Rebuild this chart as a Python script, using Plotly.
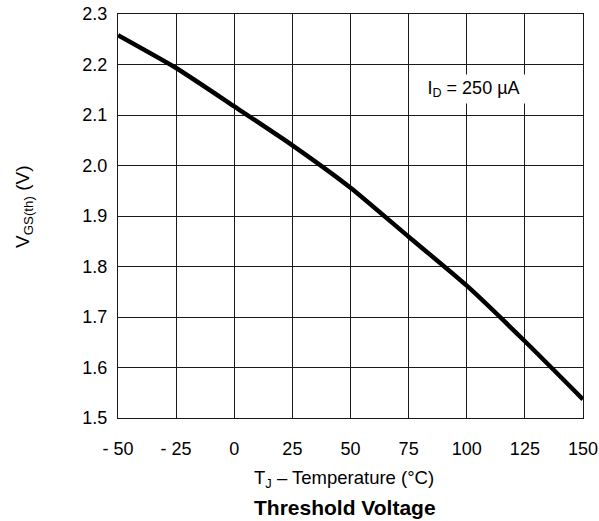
import plotly.graph_objects as go

temps = [-50, -25, 0, 25, 50, 75, 100, 125, 150]
vgs_th = [2.258, 2.193, 2.117, 2.040, 1.956, 1.859, 1.762, 1.652, 1.537]

x_ticks = [-50, -25, 0, 25, 50, 75, 100, 125, 150]
x_ticktext = ["- 50", "- 25", "0", "25", "50", "75", "100", "125", "150"]
y_ticks = [1.5, 1.6, 1.7, 1.8, 1.9, 2.0, 2.1, 2.2, 2.3]
y_ticktext = ["1.5", "1.6", "1.7", "1.8", "1.9", "2.0", "2.1", "2.2", "2.3"]

font_family = "Liberation Sans, Arial, sans-serif"
FS = 18

W, H = 599, 521
L, R, T, B = 118, 16, 14, 103
pw, ph = W - L - R, H - T - B

def px_x(x_pixel):
    return (x_pixel - L) / pw

def px_y(y_pixel):
    return (H - B - y_pixel) / ph

fig = go.Figure()
fig.add_trace(go.Scatter(
    x=temps, y=vgs_th, mode="lines",
    line=dict(color="black", width=4.5, shape="spline", smoothing=0.5),
    showlegend=False, hoverinfo="skip",
))

# condition label with white box hiding gridlines
fig.add_annotation(
    x=103, y=2.151, xref="x", yref="y",
    text="I<sub>D</sub> = 250 µA", showarrow=False,
    font=dict(family=font_family, size=FS, color="black"),
    bgcolor="white", width=103, height=28, borderpad=0,
)
# axis titles
fig.add_annotation(
    x=px_x(343.5), y=px_y(479), xref="paper", yref="paper",
    text="T<sub>J</sub> – Temperature (°C)", showarrow=False,
    font=dict(family=font_family, size=18.5, color="black"),
    xanchor="center", yanchor="middle",
)
fig.add_annotation(
    x=px_x(24), y=px_y(207), xref="paper", yref="paper",
    text="V<sub>GS(th)</sub> (V)", showarrow=False, textangle=-90,
    font=dict(family=font_family, size=19, color="black"),
    xanchor="center", yanchor="middle",
)
fig.add_annotation(
    x=px_x(345), y=px_y(507), xref="paper", yref="paper",
    text="<b>Threshold Voltage</b>", showarrow=False,
    font=dict(family=font_family, size=21, color="black"),
    xanchor="center", yanchor="middle",
)

axis_common = dict(
    showgrid=True, gridcolor="#1a1a1a", gridwidth=1,
    showline=True, linecolor="#1a1a1a", linewidth=1, mirror=True,
    zeroline=False, ticks="outside", tickcolor="rgba(0,0,0,0)",
    tickfont=dict(family=font_family, size=FS, color="black"),
    automargin=False,
)

fig.update_xaxes(range=[-50, 150], tickvals=x_ticks, ticktext=x_ticktext,
                 ticklen=14, **axis_common)
fig.update_yaxes(range=[1.5, 2.3], tickvals=y_ticks, ticktext=y_ticktext,
                 ticklen=6, **axis_common)

fig.update_layout(
    width=W, height=H,
    margin=dict(l=L, r=R, t=T, b=B),
    plot_bgcolor="white", paper_bgcolor="white",
    font=dict(family=font_family, size=FS, color="black"),
)

fig.write_html("out.html")
